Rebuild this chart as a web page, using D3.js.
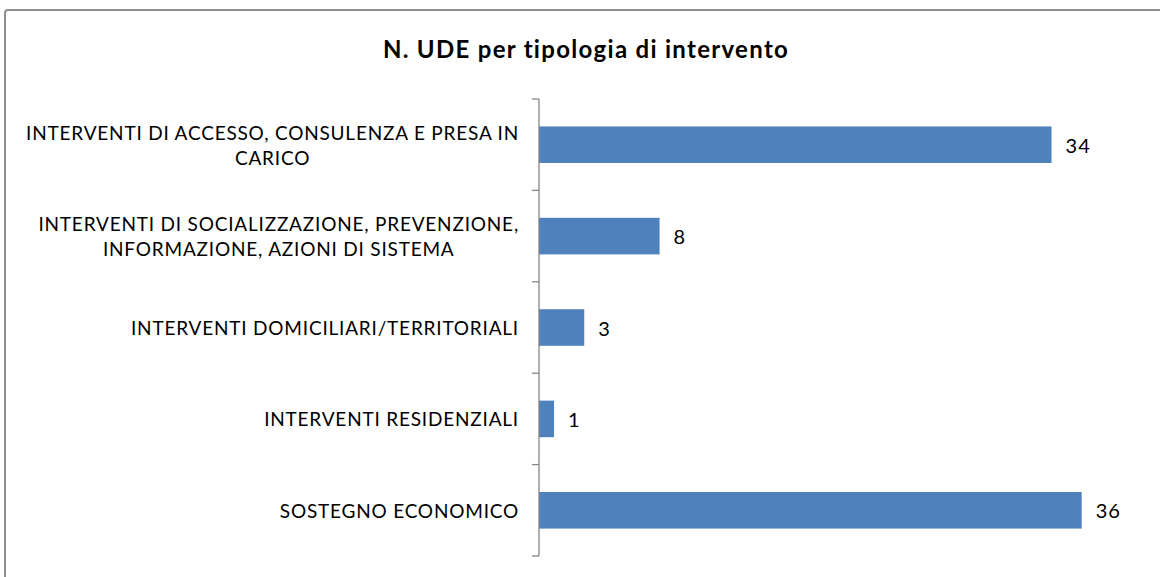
<!DOCTYPE html>
<html>
<head>
<meta charset="utf-8">
<script src="https://cdn.jsdelivr.net/npm/d3@7"></script>
<style>
  html, body { margin: 0; padding: 0; background: #ffffff; }
  svg { display: block; }
  text { font-family: Lato, "Open Sans", "Liberation Sans", sans-serif; fill: #000; }
</style>
</head>
<body>
<svg id="chart" width="1160" height="577"></svg>
<script>
// Chart content
const chartTitle = "N. UDE per tipologia di intervento";
const categories = [
  "INTERVENTI DI ACCESSO, CONSULENZA E PRESA IN CARICO",
  "INTERVENTI DI SOCIALIZZAZIONE, PREVENZIONE, INFORMAZIONE, AZIONI DI SISTEMA",
  "INTERVENTI DOMICILIARI/TERRITORIALI",
  "INTERVENTI RESIDENZIALI",
  "SOSTEGNO ECONOMICO"
];
const values = [34, 8, 3, 1, 36];
const axisMax = 40;

const svg = d3.select("#chart");
const W = 1160, H = 577;

// Outer chart frame (only top and left edges fall inside the view)
svg.append("rect")
  .attr("x", 5).attr("y", 10)
  .attr("width", W + 20).attr("height", H + 20)
  .attr("rx", 3)
  .attr("fill", "#fff")
  .attr("stroke", "#8e8e8e")
  .attr("stroke-width", 2);

// Title
svg.append("text")
  .attr("x", 586).attr("y", 48)
  .attr("text-anchor", "middle")
  .attr("dominant-baseline", "central")
  .style("font-size", "24px")
  .style("font-weight", "bold")
  .style("letter-spacing", "1.3px")
  .text(chartTitle);

// Scales
const plot = { left: 539, right: 1142, top: 99, bottom: 556 };
const y = d3.scaleBand()
  .domain(categories)
  .range([plot.top, plot.bottom])
  .paddingInner(0.6)
  .paddingOuter(0.3);
const x = d3.scaleLinear()
  .domain([0, axisMax])
  .range([plot.left, plot.right]);

const data = categories.map((c, i) => ({ cat: c, value: values[i] }));

// Bars
svg.append("g").selectAll("rect")
  .data(data)
  .join("rect")
  .attr("x", x(0))
  .attr("y", d => y(d.cat))
  .attr("width", d => x(d.value) - x(0))
  .attr("height", y.bandwidth())
  .attr("fill", "#4f81bd");

// Category axis: line plus tick marks at band boundaries
const axisG = svg.append("g").attr("stroke", "#868686").attr("stroke-width", 1.3);
axisG.append("line")
  .attr("x1", x(0)).attr("x2", x(0))
  .attr("y1", y.range()[0]).attr("y2", y.range()[1]);
const step = y.step();
const bounds = categories.map(c => y(c) - (step - y.bandwidth()) / 2);
bounds.push(y.range()[1]);
axisG.selectAll("line.tick")
  .data(bounds)
  .join("line")
  .attr("class", "tick")
  .attr("x1", x(0) - 7).attr("x2", x(0))
  .attr("y1", d => d).attr("y2", d => d);

// Category labels, wrapped and centred as a block right-aligned to the axis
const labelFont = "19px";
const labelSpacing = "0.8px";
const labelRight = 519;
const maxLabelWidth = 505;
const lineGap = 25;
const labelsG = svg.append("g");

function measure(str) {
  const t = labelsG.append("text")
    .style("font-size", labelFont)
    .style("letter-spacing", labelSpacing)
    .text(str);
  const w = t.node().getComputedTextLength();
  t.remove();
  return w;
}

data.forEach(d => {
  const words = d.cat.split(" ");
  const lines = [];
  let cur = "";
  words.forEach(w => {
    const trial = cur ? cur + " " + w : w;
    if (cur && measure(trial) > maxLabelWidth) {
      lines.push(cur);
      cur = w;
    } else {
      cur = trial;
    }
  });
  lines.push(cur);
  const widest = d3.max(lines, measure);
  const cx = labelRight - widest / 2;
  const cy = y(d.cat) + y.bandwidth() / 2;
  const t = labelsG.append("text")
    .attr("text-anchor", "middle")
    .style("font-size", labelFont)
    .style("letter-spacing", labelSpacing);
  lines.forEach((ln, i) => {
    t.append("tspan")
      .attr("x", cx)
      .attr("y", cy + (i - (lines.length - 1) / 2) * lineGap)
      .attr("dominant-baseline", "central")
      .text(ln);
  });
});

// Value labels
svg.append("g").selectAll("text")
  .data(data)
  .join("text")
  .attr("x", d => x(d.value) + 14)
  .attr("y", d => y(d.cat) + y.bandwidth() / 2)
  .attr("dominant-baseline", "central")
  .style("font-size", "20px")
  .style("letter-spacing", "1px")
  .text(d => d.value);
</script>
</body>
</html>
